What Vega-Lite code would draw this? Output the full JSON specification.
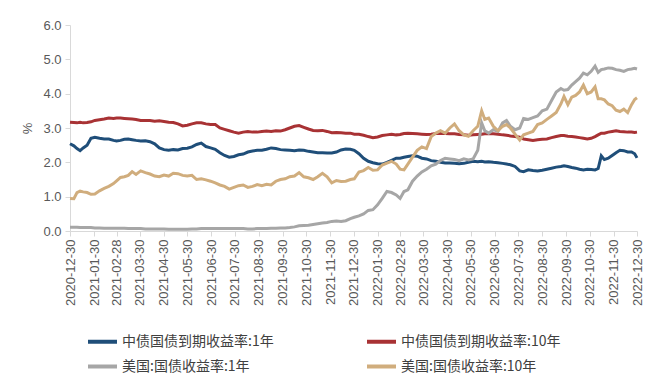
{
  "$schema": "https://vega.github.io/schema/vega-lite/v6.json",
  "width": 567,
  "height": 206,
  "autosize": {"type": "none"},
  "padding": {"left": 70, "top": 25, "right": 21, "bottom": 154},
  "background": "white",
  "config": {"view": {"stroke": null}, "font": "Liberation Sans"},
  "datasets": {
    "rates": [
      {"d":"2020-12-30","c1":2.54,"c10":3.17,"u1":0.11,"u10":0.95},
      {"d":"2021-01-04","c1":2.48,"c10":3.16,"u1":0.11,"u10":0.94},
      {"d":"2021-01-08","c1":2.40,"c10":3.15,"u1":0.11,"u10":1.12},
      {"d":"2021-01-12","c1":2.34,"c10":3.17,"u1":0.10,"u10":1.16},
      {"d":"2021-01-16","c1":2.42,"c10":3.15,"u1":0.10,"u10":1.14},
      {"d":"2021-01-21","c1":2.50,"c10":3.16,"u1":0.10,"u10":1.12},
      {"d":"2021-01-26","c1":2.70,"c10":3.18,"u1":0.10,"u10":1.07},
      {"d":"2021-01-31","c1":2.73,"c10":3.22,"u1":0.09,"u10":1.08},
      {"d":"2021-02-06","c1":2.70,"c10":3.24,"u1":0.09,"u10":1.17},
      {"d":"2021-02-12","c1":2.68,"c10":3.26,"u1":0.08,"u10":1.24},
      {"d":"2021-02-18","c1":2.68,"c10":3.29,"u1":0.08,"u10":1.30},
      {"d":"2021-02-24","c1":2.64,"c10":3.28,"u1":0.08,"u10":1.38},
      {"d":"2021-02-28","c1":2.62,"c10":3.29,"u1":0.08,"u10":1.46},
      {"d":"2021-03-05","c1":2.64,"c10":3.29,"u1":0.08,"u10":1.56},
      {"d":"2021-03-10","c1":2.67,"c10":3.28,"u1":0.08,"u10":1.58},
      {"d":"2021-03-15","c1":2.68,"c10":3.27,"u1":0.07,"u10":1.62},
      {"d":"2021-03-20","c1":2.66,"c10":3.26,"u1":0.07,"u10":1.73},
      {"d":"2021-03-25","c1":2.64,"c10":3.25,"u1":0.07,"u10":1.65},
      {"d":"2021-03-31","c1":2.62,"c10":3.22,"u1":0.07,"u10":1.75},
      {"d":"2021-04-06","c1":2.63,"c10":3.22,"u1":0.06,"u10":1.70},
      {"d":"2021-04-12","c1":2.60,"c10":3.22,"u1":0.06,"u10":1.66},
      {"d":"2021-04-18","c1":2.54,"c10":3.20,"u1":0.06,"u10":1.60},
      {"d":"2021-04-24","c1":2.42,"c10":3.21,"u1":0.06,"u10":1.58},
      {"d":"2021-04-30","c1":2.37,"c10":3.19,"u1":0.06,"u10":1.63},
      {"d":"2021-05-06","c1":2.35,"c10":3.17,"u1":0.05,"u10":1.60},
      {"d":"2021-05-12","c1":2.37,"c10":3.16,"u1":0.05,"u10":1.68},
      {"d":"2021-05-18","c1":2.36,"c10":3.12,"u1":0.05,"u10":1.67},
      {"d":"2021-05-24","c1":2.40,"c10":3.06,"u1":0.05,"u10":1.62},
      {"d":"2021-05-30","c1":2.41,"c10":3.08,"u1":0.05,"u10":1.60},
      {"d":"2021-06-05","c1":2.45,"c10":3.12,"u1":0.06,"u10":1.62},
      {"d":"2021-06-11","c1":2.52,"c10":3.15,"u1":0.06,"u10":1.50},
      {"d":"2021-06-17","c1":2.56,"c10":3.15,"u1":0.07,"u10":1.52},
      {"d":"2021-06-23","c1":2.46,"c10":3.12,"u1":0.07,"u10":1.49},
      {"d":"2021-06-29","c1":2.42,"c10":3.10,"u1":0.07,"u10":1.45},
      {"d":"2021-07-05","c1":2.38,"c10":3.10,"u1":0.07,"u10":1.40},
      {"d":"2021-07-11","c1":2.28,"c10":3.00,"u1":0.07,"u10":1.34},
      {"d":"2021-07-17","c1":2.20,"c10":2.96,"u1":0.07,"u10":1.30},
      {"d":"2021-07-23","c1":2.15,"c10":2.92,"u1":0.07,"u10":1.22},
      {"d":"2021-07-29","c1":2.17,"c10":2.88,"u1":0.07,"u10":1.27},
      {"d":"2021-08-04","c1":2.22,"c10":2.85,"u1":0.07,"u10":1.32},
      {"d":"2021-08-10","c1":2.24,"c10":2.88,"u1":0.07,"u10":1.34},
      {"d":"2021-08-16","c1":2.30,"c10":2.90,"u1":0.06,"u10":1.27},
      {"d":"2021-08-22","c1":2.33,"c10":2.88,"u1":0.06,"u10":1.30},
      {"d":"2021-08-28","c1":2.35,"c10":2.88,"u1":0.07,"u10":1.35},
      {"d":"2021-09-03","c1":2.35,"c10":2.90,"u1":0.07,"u10":1.32},
      {"d":"2021-09-09","c1":2.38,"c10":2.91,"u1":0.07,"u10":1.36},
      {"d":"2021-09-15","c1":2.42,"c10":2.90,"u1":0.08,"u10":1.34},
      {"d":"2021-09-21","c1":2.40,"c10":2.92,"u1":0.08,"u10":1.45},
      {"d":"2021-09-27","c1":2.37,"c10":2.91,"u1":0.09,"u10":1.50},
      {"d":"2021-10-03","c1":2.36,"c10":2.95,"u1":0.09,"u10":1.52},
      {"d":"2021-10-09","c1":2.35,"c10":3.00,"u1":0.10,"u10":1.58},
      {"d":"2021-10-15","c1":2.34,"c10":3.05,"u1":0.12,"u10":1.60},
      {"d":"2021-10-21","c1":2.36,"c10":3.07,"u1":0.15,"u10":1.70},
      {"d":"2021-10-27","c1":2.35,"c10":3.02,"u1":0.16,"u10":1.58},
      {"d":"2021-11-02","c1":2.32,"c10":2.97,"u1":0.17,"u10":1.55},
      {"d":"2021-11-08","c1":2.30,"c10":2.93,"u1":0.19,"u10":1.50},
      {"d":"2021-11-14","c1":2.28,"c10":2.92,"u1":0.21,"u10":1.58},
      {"d":"2021-11-20","c1":2.28,"c10":2.93,"u1":0.23,"u10":1.68},
      {"d":"2021-11-26","c1":2.27,"c10":2.90,"u1":0.25,"u10":1.58},
      {"d":"2021-12-02","c1":2.27,"c10":2.86,"u1":0.28,"u10":1.40},
      {"d":"2021-12-08","c1":2.30,"c10":2.87,"u1":0.29,"u10":1.47},
      {"d":"2021-12-14","c1":2.36,"c10":2.86,"u1":0.28,"u10":1.44},
      {"d":"2021-12-20","c1":2.39,"c10":2.85,"u1":0.30,"u10":1.45},
      {"d":"2021-12-26","c1":2.38,"c10":2.85,"u1":0.36,"u10":1.50},
      {"d":"2021-12-31","c1":2.35,"c10":2.82,"u1":0.40,"u10":1.52},
      {"d":"2022-01-06","c1":2.25,"c10":2.82,"u1":0.44,"u10":1.72},
      {"d":"2022-01-12","c1":2.12,"c10":2.79,"u1":0.50,"u10":1.76},
      {"d":"2022-01-18","c1":2.03,"c10":2.75,"u1":0.60,"u10":1.85},
      {"d":"2022-01-24","c1":1.99,"c10":2.72,"u1":0.62,"u10":1.77},
      {"d":"2022-01-30","c1":1.96,"c10":2.74,"u1":0.76,"u10":1.78},
      {"d":"2022-02-05","c1":1.95,"c10":2.78,"u1":0.95,"u10":1.92},
      {"d":"2022-02-11","c1":2.00,"c10":2.80,"u1":1.15,"u10":1.98},
      {"d":"2022-02-17","c1":2.06,"c10":2.82,"u1":1.12,"u10":2.03},
      {"d":"2022-02-23","c1":2.12,"c10":2.80,"u1":1.05,"u10":1.95},
      {"d":"2022-02-28","c1":2.12,"c10":2.81,"u1":0.95,"u10":1.80},
      {"d":"2022-03-05","c1":2.15,"c10":2.84,"u1":1.15,"u10":1.78},
      {"d":"2022-03-10","c1":2.17,"c10":2.85,"u1":1.20,"u10":1.95},
      {"d":"2022-03-16","c1":2.19,"c10":2.84,"u1":1.45,"u10":2.15},
      {"d":"2022-03-22","c1":2.18,"c10":2.83,"u1":1.60,"u10":2.35},
      {"d":"2022-03-28","c1":2.12,"c10":2.82,"u1":1.72,"u10":2.45},
      {"d":"2022-04-03","c1":2.10,"c10":2.81,"u1":1.80,"u10":2.40},
      {"d":"2022-04-09","c1":2.05,"c10":2.82,"u1":1.90,"u10":2.75},
      {"d":"2022-04-15","c1":2.03,"c10":2.84,"u1":1.95,"u10":2.85},
      {"d":"2022-04-21","c1":2.00,"c10":2.85,"u1":2.05,"u10":2.92},
      {"d":"2022-04-27","c1":1.98,"c10":2.84,"u1":2.12,"u10":2.85},
      {"d":"2022-05-03","c1":1.98,"c10":2.83,"u1":2.10,"u10":3.00},
      {"d":"2022-05-09","c1":1.97,"c10":2.83,"u1":2.08,"u10":3.12},
      {"d":"2022-05-15","c1":1.96,"c10":2.81,"u1":2.05,"u10":2.92},
      {"d":"2022-05-21","c1":1.97,"c10":2.80,"u1":2.10,"u10":2.80},
      {"d":"2022-05-27","c1":2.00,"c10":2.79,"u1":2.07,"u10":2.76},
      {"d":"2022-06-02","c1":2.03,"c10":2.80,"u1":2.10,"u10":2.92},
      {"d":"2022-06-08","c1":2.02,"c10":2.81,"u1":2.35,"u10":3.05},
      {"d":"2022-06-13","c1":2.03,"c10":2.82,"u1":3.15,"u10":3.50},
      {"d":"2022-06-17","c1":2.01,"c10":2.83,"u1":2.92,"u10":3.25},
      {"d":"2022-06-22","c1":2.02,"c10":2.84,"u1":2.85,"u10":3.29},
      {"d":"2022-06-28","c1":2.00,"c10":2.83,"u1":2.95,"u10":3.05},
      {"d":"2022-07-04","c1":1.99,"c10":2.82,"u1":2.90,"u10":2.92},
      {"d":"2022-07-10","c1":1.97,"c10":2.80,"u1":3.15,"u10":3.05},
      {"d":"2022-07-15","c1":1.95,"c10":2.79,"u1":3.22,"u10":3.10},
      {"d":"2022-07-20","c1":1.93,"c10":2.77,"u1":3.05,"u10":3.00},
      {"d":"2022-07-26","c1":1.88,"c10":2.75,"u1":2.95,"u10":2.82},
      {"d":"2022-08-01","c1":1.75,"c10":2.73,"u1":3.00,"u10":2.65},
      {"d":"2022-08-06","c1":1.73,"c10":2.68,"u1":3.28,"u10":2.80},
      {"d":"2022-08-12","c1":1.78,"c10":2.66,"u1":3.25,"u10":2.85},
      {"d":"2022-08-18","c1":1.76,"c10":2.64,"u1":3.30,"u10":2.90},
      {"d":"2022-08-24","c1":1.75,"c10":2.66,"u1":3.35,"u10":3.10},
      {"d":"2022-08-30","c1":1.77,"c10":2.67,"u1":3.50,"u10":3.15},
      {"d":"2022-09-05","c1":1.80,"c10":2.68,"u1":3.55,"u10":3.25},
      {"d":"2022-09-11","c1":1.83,"c10":2.72,"u1":3.80,"u10":3.35},
      {"d":"2022-09-17","c1":1.86,"c10":2.75,"u1":4.05,"u10":3.45},
      {"d":"2022-09-23","c1":1.88,"c10":2.78,"u1":4.15,"u10":3.70},
      {"d":"2022-09-27","c1":1.90,"c10":2.78,"u1":4.10,"u10":3.92},
      {"d":"2022-10-02","c1":1.88,"c10":2.76,"u1":4.12,"u10":3.68},
      {"d":"2022-10-07","c1":1.85,"c10":2.75,"u1":4.25,"u10":3.90},
      {"d":"2022-10-12","c1":1.83,"c10":2.74,"u1":4.35,"u10":3.95},
      {"d":"2022-10-17","c1":1.80,"c10":2.72,"u1":4.45,"u10":4.05},
      {"d":"2022-10-22","c1":1.78,"c10":2.70,"u1":4.60,"u10":4.25},
      {"d":"2022-10-27","c1":1.80,"c10":2.68,"u1":4.55,"u10":4.00},
      {"d":"2022-11-01","c1":1.79,"c10":2.70,"u1":4.65,"u10":4.05},
      {"d":"2022-11-06","c1":1.78,"c10":2.75,"u1":4.80,"u10":4.20},
      {"d":"2022-11-10","c1":1.82,"c10":2.80,"u1":4.62,"u10":3.85},
      {"d":"2022-11-14","c1":2.19,"c10":2.85,"u1":4.70,"u10":3.85},
      {"d":"2022-11-18","c1":2.08,"c10":2.85,"u1":4.72,"u10":3.82},
      {"d":"2022-11-23","c1":2.12,"c10":2.88,"u1":4.75,"u10":3.70},
      {"d":"2022-11-28","c1":2.20,"c10":2.90,"u1":4.74,"u10":3.65},
      {"d":"2022-12-03","c1":2.28,"c10":2.92,"u1":4.70,"u10":3.52},
      {"d":"2022-12-08","c1":2.35,"c10":2.90,"u1":4.68,"u10":3.48},
      {"d":"2022-12-13","c1":2.34,"c10":2.89,"u1":4.65,"u10":3.55},
      {"d":"2022-12-18","c1":2.30,"c10":2.88,"u1":4.70,"u10":3.45},
      {"d":"2022-12-23","c1":2.30,"c10":2.88,"u1":4.72,"u10":3.68},
      {"d":"2022-12-27","c1":2.25,"c10":2.87,"u1":4.74,"u10":3.83},
      {"d":"2022-12-30","c1":2.13,"c10":2.88,"u1":4.72,"u10":3.88}
    ],
    "names": [
      {"key":"c1","series":"中债国债到期收益率:1年"},
      {"key":"c10","series":"中债国债到期收益率:10年"},
      {"key":"u1","series":"美国:国债收益率:1年"},
      {"key":"u10","series":"美国:国债收益率:10年"}
    ]
  },
  "data": {"name": "rates"},
  "transform": [
    {"fold": ["c1", "c10", "u1", "u10"], "as": ["key", "value"]},
    {"lookup": "key", "from": {"data": {"name": "names"}, "key": "key", "fields": ["series"]}}
  ],
  "mark": {"type": "line", "strokeWidth": 3},
  "encoding": {
    "x": {
      "field": "d",
      "type": "temporal",
      "scale": {
        "type": "utc",
        "domain": [
          {"year": 2020, "month": 12, "date": 30, "utc": true},
          {"year": 2022, "month": 12, "date": 30, "utc": true}
        ]
      },
      "axis": {
        "title": null,
        "values": [
          {"year":2020,"month":12,"date":30,"utc":true},
          {"year":2021,"month":1,"date":30,"utc":true},
          {"year":2021,"month":2,"date":28,"utc":true},
          {"year":2021,"month":3,"date":30,"utc":true},
          {"year":2021,"month":4,"date":30,"utc":true},
          {"year":2021,"month":5,"date":30,"utc":true},
          {"year":2021,"month":6,"date":30,"utc":true},
          {"year":2021,"month":7,"date":30,"utc":true},
          {"year":2021,"month":8,"date":30,"utc":true},
          {"year":2021,"month":9,"date":30,"utc":true},
          {"year":2021,"month":10,"date":30,"utc":true},
          {"year":2021,"month":11,"date":30,"utc":true},
          {"year":2021,"month":12,"date":30,"utc":true},
          {"year":2022,"month":1,"date":30,"utc":true},
          {"year":2022,"month":2,"date":28,"utc":true},
          {"year":2022,"month":3,"date":30,"utc":true},
          {"year":2022,"month":4,"date":30,"utc":true},
          {"year":2022,"month":5,"date":30,"utc":true},
          {"year":2022,"month":6,"date":30,"utc":true},
          {"year":2022,"month":7,"date":30,"utc":true},
          {"year":2022,"month":8,"date":30,"utc":true},
          {"year":2022,"month":9,"date":30,"utc":true},
          {"year":2022,"month":10,"date":30,"utc":true},
          {"year":2022,"month":11,"date":30,"utc":true},
          {"year":2022,"month":12,"date":30,"utc":true}
        ],
        "format": "%Y-%m-%d",
        "labelAngle": 270,
        "labelFontSize": 13,
        "labelColor": "#595959",
        "labelOverlap": false,
        "labelPadding": 3,
        "domainColor": "#d9d9d9",
        "tickColor": "#d9d9d9",
        "tickSize": 5,
        "grid": false
      }
    },
    "y": {
      "field": "value",
      "type": "quantitative",
      "scale": {"domain": [0, 6]},
      "axis": {
        "title": "%",
        "titleX": -43,
        "titleY": 103,
        "titleAngle": 270,
        "titleAlign": "center",
        "titleBaseline": "middle",
        "titleFontWeight": "normal",
        "titleFontSize": 13,
        "titleColor": "#595959",
        "values": [0, 1, 2, 3, 4, 5, 6],
        "format": ".1f",
        "labelFontSize": 13,
        "labelColor": "#595959",
        "labelPadding": 4,
        "domainColor": "#d9d9d9",
        "tickColor": "#d9d9d9",
        "tickSize": 5,
        "grid": false
      }
    },
    "color": {
      "field": "series",
      "type": "nominal",
      "sort": ["中债国债到期收益率:1年", "中债国债到期收益率:10年", "美国:国债收益率:1年", "美国:国债收益率:10年"],
      "scale": {
        "domain": ["中债国债到期收益率:1年", "中债国债到期收益率:10年", "美国:国债收益率:1年", "美国:国债收益率:10年"],
        "range": ["#1f4e79", "#a83234", "#a6a6a6", "#d0ad7d"]
      },
      "legend": {
        "title": null,
        "orient": "none",
        "direction": "horizontal",
        "legendX": 16,
        "legendY": 300,
        "columns": 2,
        "columnPadding": 85,
        "rowPadding": -10,
        "padding": 0,
        "symbolType": "stroke",
        "symbolSize": 841,
        "symbolStrokeWidth": 4,
        "labelFont": "Noto Sans CJK SC",
        "labelFontSize": 14,
        "labelColor": "#404040",
        "labelOffset": 3,
        "labelLimit": 300
      }
    }
  }
}
